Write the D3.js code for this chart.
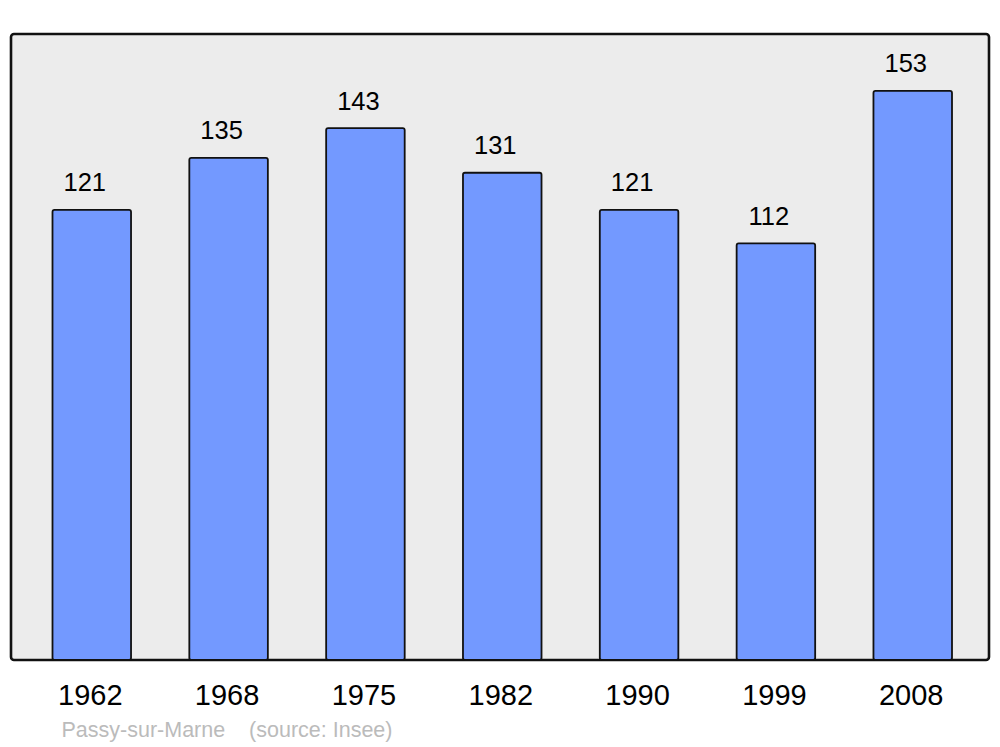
<!DOCTYPE html>
<html><head><meta charset="utf-8">
<script src="https://cdn.jsdelivr.net/npm/d3@7"></script>
<style>html,body{margin:0;padding:0;background:#fff;}</style>
</head><body>
<script>
const years = ["1962","1968","1975","1982","1990","1999","2008"];
const population = [121,135,143,131,121,112,153];
const footerText = "Passy-sur-Marne    (source: Insee)";

const W = 1000, H = 747;
const svg = d3.select("body").append("svg").attr("width", W).attr("height", H)
  .style("font-family", "'Liberation Sans', Arial, sans-serif");

const panel = {x0: 11, x1: 989, y0: 34, y1: 660};

svg.append("rect")
  .attr("x", panel.x0).attr("y", panel.y0)
  .attr("width", panel.x1 - panel.x0).attr("height", panel.y1 - panel.y0)
  .attr("rx", 3).attr("ry", 3)
  .attr("fill", "#ececec").attr("stroke", "#111").attr("stroke-width", 2.6);

const x = d3.scaleBand().domain(years).range([52.5, 952]).paddingInner(0.426).paddingOuter(0);
const y = d3.scaleLinear().domain([0, 168.3]).range([panel.y1, panel.y0]);

const data = years.map((yr, i) => ({year: yr, value: population[i]}));

svg.append("g").selectAll("rect").data(data).join("rect")
  .attr("x", d => x(d.year)).attr("y", d => y(d.value))
  .attr("width", x.bandwidth()).attr("height", d => y(0) - y(d.value))
  .attr("rx", 2).attr("ry", 2)
  .attr("fill", "#7399ff").attr("stroke", "#111").attr("stroke-width", 1.8);

svg.append("g").selectAll("text").data(data).join("text")
  .attr("x", d => x(d.year) + x.bandwidth()/2 - 7)
  .attr("y", d => y(d.value) - 18.5)
  .attr("text-anchor", "middle")
  .attr("font-size", 25.5).attr("fill", "#000")
  .text(d => d.value);

const xAxis = d3.axisBottom(x).tickSize(0).tickPadding(0);
const gx = svg.append("g").attr("transform", `translate(-1.5, 684)`).call(xAxis);
gx.select(".domain").remove();
gx.selectAll("text").attr("font-size", 29).attr("fill", "#000")
  .attr("font-family", "'Liberation Sans', Arial, sans-serif");

svg.append("text")
  .attr("x", 61.5).attr("y", 737)
  .attr("font-size", 21.5).attr("fill", "#bbbbbb")
  .attr("xml:space", "preserve").style("white-space", "pre")
  .text(footerText);
</script>
</body></html>
